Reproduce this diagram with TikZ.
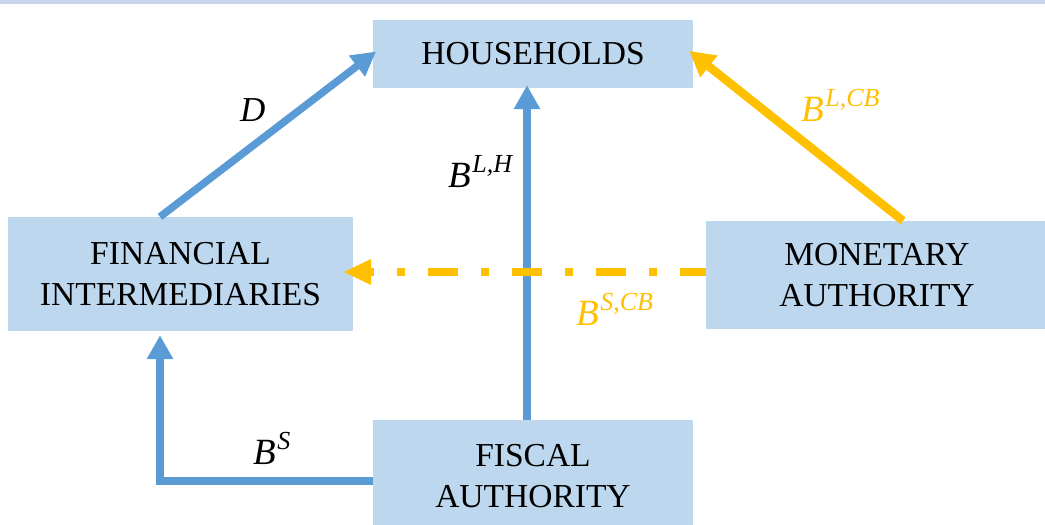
\documentclass[tikz,border=0pt]{standalone}
\usepackage{fontspec}
\setmainfont{Liberation Serif}
\usetikzlibrary{arrows.meta}
\definecolor{boxfill}{HTML}{BDD7EE}
\definecolor{blueline}{HTML}{5B9BD5}
\definecolor{orangeline}{HTML}{FFC000}
\definecolor{topband}{HTML}{CAD4EC}
\newcommand{\supvar}[2]{\textit{#1}\kern1.5pt\raisebox{15pt}{\fontsize{26}{28}\selectfont\textit{#2}}}
\begin{document}
\begin{tikzpicture}[x=1pt,y=-1pt,
  box/.style={fill=boxfill, inner sep=0pt, align=center, font=\fontsize{33.5}{41}\selectfont},
  bluearrow/.style={draw=blueline, line width=7.5pt, -{Triangle[length=24pt,width=25pt]}},
  orangearrow/.style={draw=orangeline, line width=8.5pt, -{Triangle[length=25pt,width=26pt]}},
  orangedash/.style={draw=orangeline, line width=8.5pt, dash pattern=on 30pt off 23pt on 8pt off 23pt, dash phase=4pt, -{Triangle[length=28pt,width=24pt]}},
  lbl/.style={inner sep=0pt, font=\fontsize{37}{40}\selectfont},
  olbl/.style={lbl, text=orangeline}]
\useasboundingbox (0,0) rectangle (1045,525);
\fill[topband] (0,0) rectangle (1045,4);
\node[box, minimum width=320pt, minimum height=68pt] (hh) at (533,54) {HOUSEHOLDS};
\node[box, minimum width=345pt, minimum height=114pt] (fi) at (180.5,274) {FINANCIAL\\INTERMEDIARIES};
\node[box, minimum width=342pt, minimum height=108pt] (ma) at (877,275) {MONETARY\\AUTHORITY};
\node[box, minimum width=320pt, minimum height=113pt] (fa) at (533,476.5) {FISCAL\\AUTHORITY};
\draw[bluearrow, shorten >=-4pt] ([xshift=-20.5pt]fi.north) -- (hh.west);
\draw[bluearrow, shorten >=-3pt] ([xshift=-6pt]fa.north) -- ([xshift=-6pt]hh.south);
\draw[bluearrow, shorten >=4pt] ([yshift=-4.5pt]fa.west) -| ([xshift=-20.5pt]fi.south);
\draw[orangearrow, shorten >=-5pt] ([xshift=26pt]ma.north) -- (hh.east);
\draw[orangedash, shorten >=-10pt] ([yshift=3pt]ma.west) -- ([yshift=3pt]ma.west -| fi.east);
\node[lbl, anchor=base west, font=\fontsize{35}{40}\selectfont] (lD) at (240,121) {\textit{D}};
\node[lbl, anchor=base west] (lLH) at (448,187) {\supvar{B}{L,H}};
\node[olbl, anchor=base west] (lLCB) at (801,121) {\supvar{B}{L,CB}};
\node[olbl, anchor=base west] (lSCB) at (576,325) {\supvar{B}{S,CB}};
\node[lbl, anchor=base west] (lS) at (253,464) {\supvar{B}{S}};
\end{tikzpicture}
\end{document}
